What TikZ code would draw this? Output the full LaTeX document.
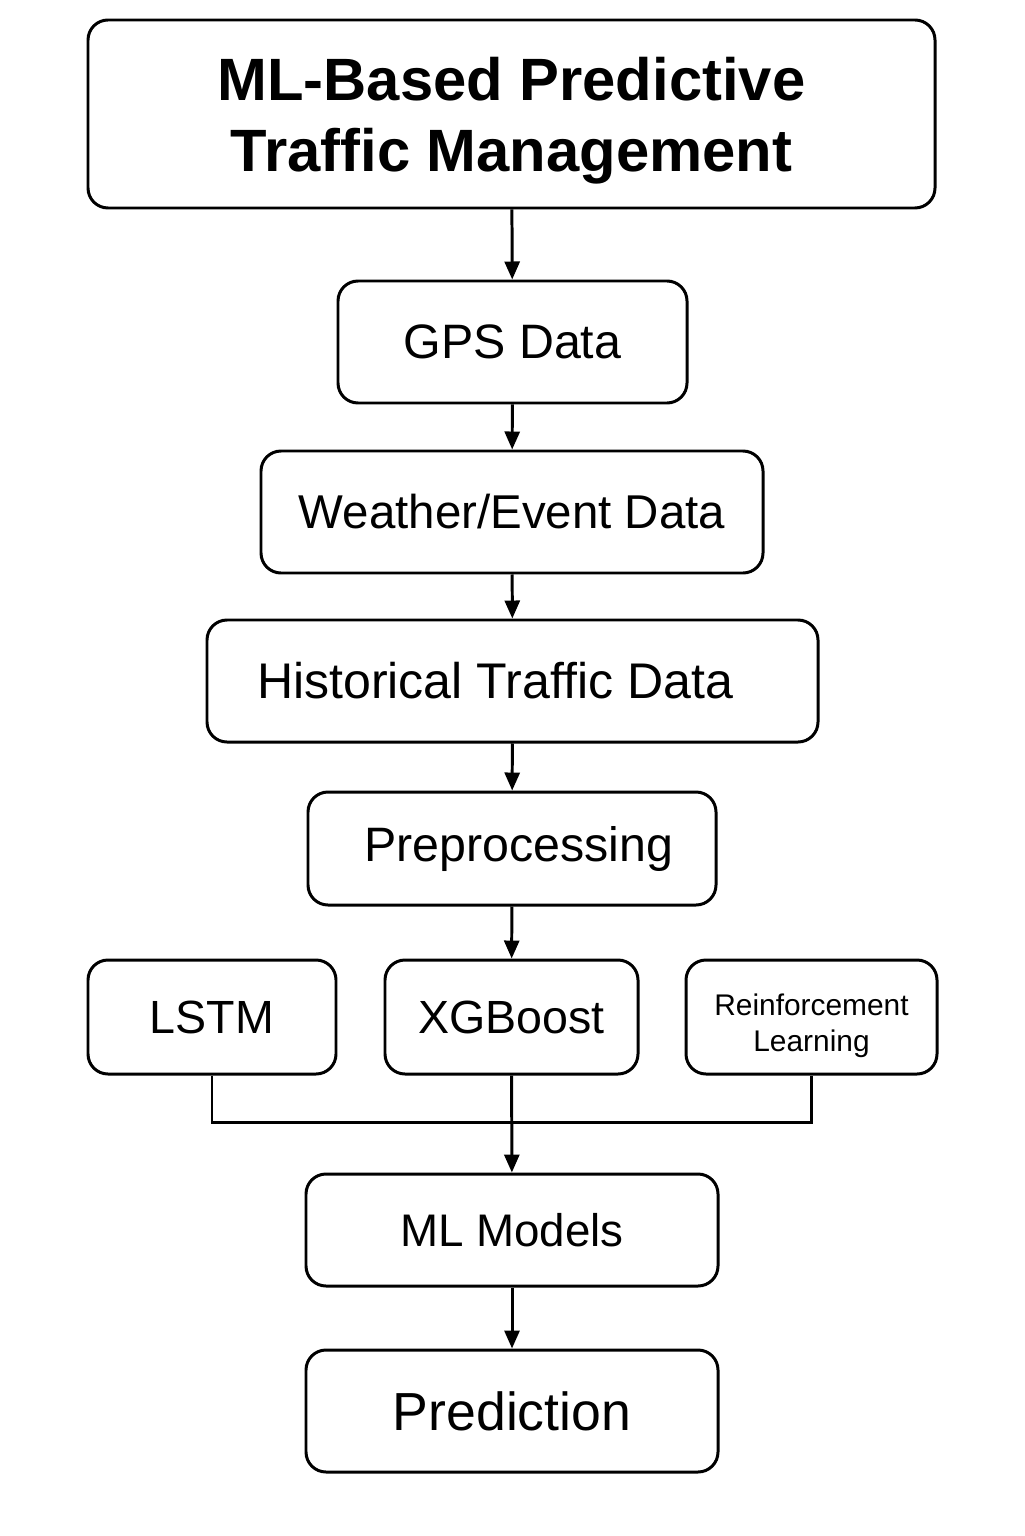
\documentclass[tikz,border=0pt]{standalone}
\usepackage{fontspec}
\setmainfont{Liberation Sans}
\usetikzlibrary{arrows.meta}
\begin{document}
\begin{tikzpicture}[
    box/.style={draw, line width=1.7pt, rounded corners=0.4cm, align=center,
      inner sep=0pt, minimum height=2.44cm},
    arr/.style={line width=1.7pt, -{Triangle[length=0.36cm,width=0.3cm]}},
    link/.style={line width=1.7pt}
  ]
  \useasboundingbox (0,0) rectangle (20.48,-30.72);
  \draw
    (10.23,-2.28) node[box, minimum width=16.94cm, minimum height=3.76cm,
      font=\fontsize{34}{40.4}\selectfont\bfseries] (title)
      {\rule{0pt}{1.15cm}ML-Based Predictive\\Traffic Management}
    (10.25,-6.84) node[box, minimum width=6.98cm, font=\fontsize{27.5}{33}\selectfont] (gps) {GPS Data}
    (10.24,-10.24) node[box, minimum width=10.04cm, font=\fontsize{27}{33}\selectfont] (weather) {Weather/Event Data}
    (10.25,-13.62) node[box, minimum width=12.22cm, font=\fontsize{28.5}{33}\selectfont] (hist) {Historical Traffic Data\hspace*{0.7cm}}
    (10.24,-16.97) node[box, minimum width=8.16cm, minimum height=2.26cm, font=\fontsize{27.5}{33}\selectfont] (prep) {\hspace*{0.28cm}Preprocessing}
    (4.24,-20.34) node[box, minimum width=4.96cm, minimum height=2.28cm, font=\fontsize{26.5}{33}\selectfont] (lstm) {LSTM}
    (10.23,-20.34) node[box, minimum width=5.06cm, minimum height=2.28cm, font=\fontsize{26.5}{33}\selectfont] (xgb) {XGBoost}
    (16.23,-20.34) node[box, minimum width=5.02cm, minimum height=2.28cm, font=\fontsize{17}{20.5}\selectfont] (rl) {\rule{0pt}{0.8cm}Reinforcement\\Learning}
    (10.24,-24.6) node[box, minimum width=8.24cm, minimum height=2.24cm, font=\fontsize{26}{33}\selectfont] (models) {ML Models}
    (10.24,-28.22) node[box, minimum width=8.24cm, font=\fontsize{30.5}{36}\selectfont] (pred) {Prediction};
  \coordinate (busl) at (lstm.south |- 0,-22.44);
  \coordinate (busr) at (rl.south |- 0,-22.44);
  \begin{scope}[arr]
    \draw (title) to (gps);
    \draw (gps) to (weather);
    \draw (weather) to (hist);
    \draw (hist) to (prep);
    \draw (prep) to (xgb);
    \draw (xgb) to (models);
    \draw (models) to (pred);
  \end{scope}
  \draw[link] (lstm.south) -- (busl) -- (busr) -- (rl.south);
\end{tikzpicture}
\end{document}
